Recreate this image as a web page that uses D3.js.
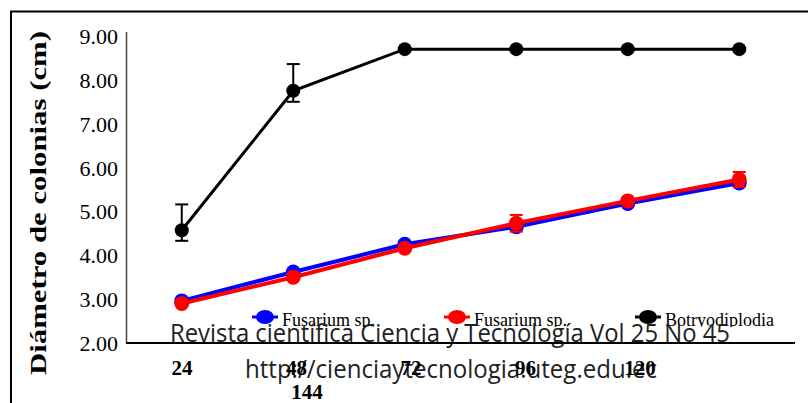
<!DOCTYPE html>
<html>
<head>
<meta charset="utf-8">
<script src="https://cdn.jsdelivr.net/npm/d3@7"></script>
<style>
  body { margin: 0; background: #fff; }
  svg { display: block; }
</style>
</head>
<body>
<script>
// horas
var categories = ["24", "48", "72", "96", "120", "144"]
var yTicks = [2, 3, 4, 5, 6, 7, 8, 9]

var fusariumBlue = [2.96, 3.62, 4.25, 4.65, 5.18, 5.65]
var fusariumRed = [2.90, 3.50, 4.16, 4.73, 5.24, 5.73]
var botryo = [4.57, 7.75, 8.70, 8.70, 8.70, 8.70]

// error bars (up / down)
var errBlueUp = [0.03, 0.03, 0.03, 0.03, 0.03, 0.03]
var errBlueDown = [0.03, 0.03, 0.03, 0.03, 0.03, 0.03]
var errRedUp = [0.05, 0.05, 0.05, 0.19, 0.06, 0.17]
var errRedDown = [0.05, 0.05, 0.05, 0.19, 0.06, 0.17]
var errBlackUp = [0.59, 0.61, 0.0, 0.0, 0.0, 0.0]
var errBlackDown = [0.24, 0.25, 0.0, 0.0, 0.0, 0.0]

var seriesNames = ["Fusarium sp.", "Fusarium sp.", "Botryodiplodia"]

var series = [
  {name: seriesNames[0], color: "#0000ff", values: fusariumBlue, up: errBlueUp, down: errBlueDown, lw: 4, r: 7.5},
  {name: seriesNames[1], color: "#ff0000", values: fusariumRed, up: errRedUp, down: errRedDown, lw: 4, r: 7.5},
  {name: seriesNames[2], color: "#000000", values: botryo, up: errBlackUp, down: errBlackDown, lw: 3, r: 7}
]

var W = 808, H = 403

var svg = d3.select("body")
            .append("svg")
            .attr("width", W)
            .attr("height", H)

// outer frame
svg.append("rect")
   .attr("x", 11).attr("y", 11.5)
   .attr("width", 900).attr("height", 500)
   .attr("fill", "none")
   .attr("stroke", "#000")
   .attr("stroke-width", 2)

var x = d3.scalePoint().domain(categories).range([126, 795]).padding(0.5)
var y = d3.scaleLinear().domain([2, 9]).range([343, 36])

// y axis (labels only, line drawn separately)
var yAxis = svg.append("g")
   .attr("transform", "translate(118,0)")
   .call(d3.axisLeft(y).tickValues(yTicks).tickSize(0).tickPadding(0)
           .tickFormat(function(d) {return d3.format(".2f")(d)}))
yAxis.select(".domain").remove()
yAxis.selectAll("text")
   .attr("font-family", "'Liberation Serif', 'Times New Roman', serif")
   .attr("font-size", "22px")
   .attr("fill", "#000")
   .attr("dy", "0.34em")

svg.append("line")
   .attr("x1", 126.5).attr("x2", 126.5)
   .attr("y1", 32).attr("y2", 343)
   .attr("stroke", "#444")
   .attr("stroke-width", 1.5)

// y title
svg.append("text")
   .attr("transform", "translate(46," + 203 + ") rotate(-90)")
   .attr("text-anchor", "middle")
   .attr("font-family", "'Liberation Serif', 'Times New Roman', serif")
   .attr("font-weight", "bold")
   .attr("font-size", "23px")
   .attr("textLength", 344)
   .attr("lengthAdjust", "spacingAndGlyphs")
   .text("Diámetro de colonias (cm)")

// lines, error bars, markers
var line = d3.line()
   .x(function(d, i) {return x(categories[i])})
   .y(function(d) {return y(d)})

series.forEach(function(s) {
  svg.append("path")
     .datum(s.values)
     .attr("d", line)
     .attr("fill", "none")
     .attr("stroke", s.color)
     .attr("stroke-width", s.lw)

  var g = svg.append("g")
  var pts = s.values.map(function(v, i) {
    return {c: categories[i], v: v, up: s.up[i], down: s.down[i]}
  })

  g.selectAll("line.err")
   .data(pts).enter()
   .append("line")
   .attr("x1", function(d) {return x(d.c)})
   .attr("x2", function(d) {return x(d.c)})
   .attr("y1", function(d) {return y(d.v + d.up)})
   .attr("y2", function(d) {return y(d.v - d.down)})
   .attr("stroke", s.color)
   .attr("stroke-width", 2)

  g.selectAll("line.capTop")
   .data(pts).enter()
   .append("line")
   .attr("x1", function(d) {return x(d.c) - 6.5})
   .attr("x2", function(d) {return x(d.c) + 6.5})
   .attr("y1", function(d) {return y(d.v + d.up)})
   .attr("y2", function(d) {return y(d.v + d.up)})
   .attr("stroke", s.color)
   .attr("stroke-width", 2)

  g.selectAll("line.capBot")
   .data(pts).enter()
   .append("line")
   .attr("x1", function(d) {return x(d.c) - 6.5})
   .attr("x2", function(d) {return x(d.c) + 6.5})
   .attr("y1", function(d) {return y(d.v - d.down)})
   .attr("y2", function(d) {return y(d.v - d.down)})
   .attr("stroke", s.color)
   .attr("stroke-width", 2)

  g.selectAll("circle")
   .data(pts).enter()
   .append("circle")
   .attr("cx", function(d) {return x(d.c)})
   .attr("cy", function(d) {return y(d.v)})
   .attr("r", s.r)
   .attr("fill", s.color)
})

// legend
var legendX = [265, 457, 648]
var legend = svg.selectAll("g.legend")
   .data(series).enter()
   .append("g")
   .attr("transform", function(d, i) {return "translate(" + legendX[i] + ",317)"})

legend.append("line")
   .attr("x1", -13).attr("x2", 13)
   .attr("stroke", function(d) {return d.color})
   .attr("stroke-width", 3)
legend.append("ellipse")
   .attr("rx", 9).attr("ry", 7)
   .attr("fill", function(d) {return d.color})
legend.append("text")
   .attr("x", 17)
   .attr("y", 9)
   .attr("font-family", "'Liberation Serif', 'Times New Roman', serif")
   .attr("font-size", "18px")
   .text(function(d) {return d.name})

// watermark box hides bottoms of the legend text
svg.append("rect")
   .attr("x", 165).attr("y", 327)
   .attr("width", 640).attr("height", 15)
   .attr("fill", "#fff")

svg.append("text")
   .attr("x", 170).attr("y", 342)
   .attr("font-family", "'Open Sans', sans-serif")
   .attr("font-size", "25px")
   .attr("fill", "#222")
   .attr("textLength", 560)
   .attr("lengthAdjust", "spacingAndGlyphs")
   .text("Revista científica Ciencia y Tecnología Vol 25 No 45")

svg.append("text")
   .attr("x", 245).attr("y", 378)
   .attr("font-family", "'Open Sans', sans-serif")
   .attr("font-size", "25px")
   .attr("fill", "#222")
   .attr("textLength", 412)
   .attr("lengthAdjust", "spacingAndGlyphs")
   .text("http://cienciaytecnologia.uteg.edu.ec")

// x axis line
svg.append("line")
   .attr("x1", 126).attr("x2", 795)
   .attr("y1", 343).attr("y2", 343)
   .attr("stroke", "#000")
   .attr("stroke-width", 2)

// x labels (the pdf shifts them a bit and wraps the last one)
var labelX = d3.scalePoint().domain(categories.slice(0, 5)).range([182, 640])
svg.selectAll("text.xlab")
   .data(categories).enter()
   .append("text")
   .attr("class", "xlab")
   .attr("x", function(d, i) {return i < 5 ? labelX(d) : 307})
   .attr("y", function(d, i) {return i < 5 ? 375 : 399})
   .attr("text-anchor", "middle")
   .attr("font-family", "'Liberation Serif', 'Times New Roman', serif")
   .attr("font-weight", "bold")
   .attr("font-size", "21px")
   .text(function(d) {return d})
</script>
</body>
</html>
